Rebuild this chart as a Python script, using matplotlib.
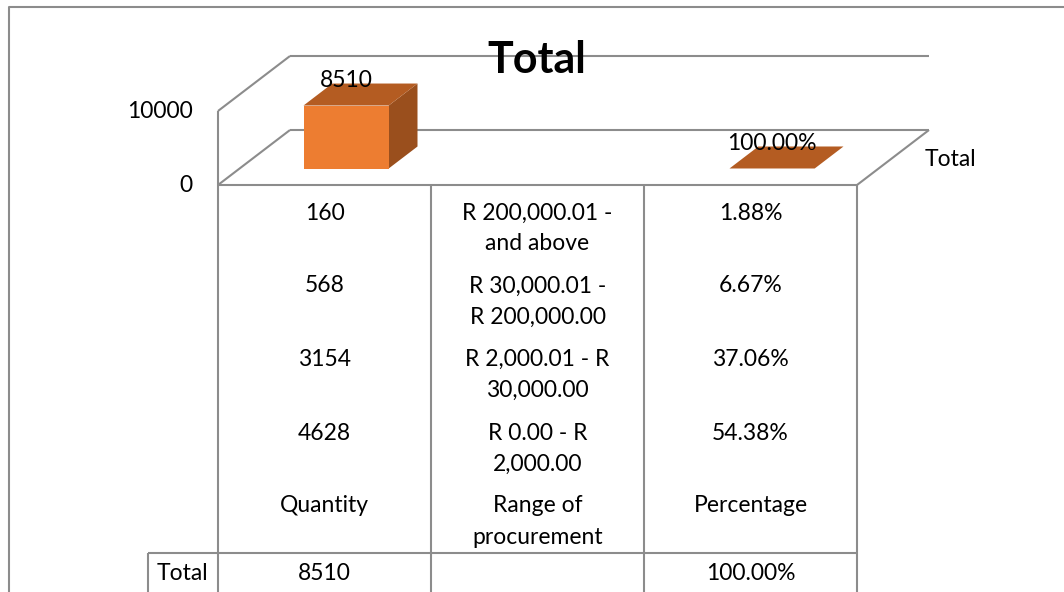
import matplotlib
matplotlib.use("Agg")
import matplotlib.pyplot as plt
from matplotlib.patches import Polygon

plt.rcParams['font.family'] = ['Lato', 'DejaVu Sans']

# chart data
categories = ["Quantity", "Range of\nprocurement", "Percentage"]
series_name = "Total"
total_values = [8510, None, 1.0]
total_labels = ["8510", "", "100.00%"]
y_ticks = [0, 10000]

# data table rows (top to bottom)
quantity = [160, 568, 3154, 4628]
ranges = ["R 200,000.01 -\nand above", "R 30,000.01 -\nR 200,000.00",
          "R 2,000.01 - R\n30,000.00", "R 0.00 - R\n2,000.00"]
percentage = ["1.88%", "6.67%", "37.06%", "54.38%"]
total_row = ["8510", "", "100.00%"]

W, H = 1064, 592
FS = 16.5
fig = plt.figure(figsize=(W / 100, H / 100), dpi=100)
ax = fig.add_axes([0, 0, 1, 1])
ax.set_xlim(0, W)
ax.set_ylim(H, 0)
ax.axis('off')

# pseudo-3D projection of (category position, value, depth 0..1) to pixels
X0, Y0 = 218, 185
CAT_W = 213
PX_PER_UNIT = 74 / 10000
DX, DY = 72, -55


def proj(c, v, d):
    return X0 + c * CAT_W + d * DX, Y0 - v * PX_PER_UNIT + d * DY


grid = '#8c8c8c'
lw = 1.5
n = len(categories)


def seg(p, q, **kw):
    ax.plot([p[0], q[0]], [p[1], q[1]], color=grid, lw=lw, solid_capstyle='butt', **kw)


# chart outer border
ax.plot([9, 9, W + 5], [H + 5, 7, 7], color='#8c8c8c', lw=1.5)

# walls / floor
vmax = y_ticks[-1]
for v in y_ticks:
    seg(proj(0, v, 1), proj(n, v, 1))
    seg(proj(0, v, 0), proj(0, v, 1))
seg(proj(0, 0, 0), proj(0, vmax, 0))
seg(proj(0, 0, 0), proj(n, 0, 0))
seg(proj(n, 0, 0), proj(n, 0, 1))

# y tick labels
for v in y_ticks:
    x, y = proj(0, v, 0)
    ax.text(x - 25, y, f"{v}", ha='right', va='center', fontsize=FS)

# bars
front_c = '#ED7D31'
top_c = '#B45C22'
side_c = '#9A4F1D'
bw = 0.4
d0, d1 = 0.3, 0.7
for i, v in enumerate(total_values):
    if v is None:
        continue
    c0, c1 = i + 0.5 - bw / 2, i + 0.5 + bw / 2
    front = [proj(c0, 0, d0), proj(c1, 0, d0), proj(c1, v, d0), proj(c0, v, d0)]
    top = [proj(c0, v, d0), proj(c1, v, d0), proj(c1, v, d1), proj(c0, v, d1)]
    side = [proj(c1, 0, d0), proj(c1, 0, d1), proj(c1, v, d1), proj(c1, v, d0)]
    if v * PX_PER_UNIT > 1:
        ax.add_patch(Polygon(side, closed=True, fc=side_c, ec='none', zorder=3))
        ax.add_patch(Polygon(front, closed=True, fc=front_c, ec='none', zorder=3))
    ax.add_patch(Polygon(top, closed=True, fc=top_c, ec='none', zorder=3))
    lx, _ = proj(i + 0.5, v, d0)
    _, ly = proj(i + 0.5, v, d1)
    ax.text(lx, ly - 3, total_labels[i], ha='center', va='center', fontsize=FS, zorder=4)

# title and legend
ax.text(537, 60, "Total", ha='center', va='center', fontsize=31, fontweight='bold', zorder=5)
ax.text(925, 159, series_name, ha='left', va='center', fontsize=FS)

# data table grid
for i in range(n + 1):
    x, y = proj(i, 0, 0)
    seg((x, y), (x, H + 5))
seg((148, 553), (proj(n, 0, 0)[0], 553))
seg((148, 553), (148, H + 5))

# data table text
row_y = [213, 286, 359, 433, 506]
line_gap = 31
cx = [proj(i + 0.5, 0, 0)[0] for i in range(n)]


def cell(x, y, s):
    for k, line in enumerate(s.split("\n")):
        ax.text(x, y + k * line_gap, line, ha='center', va='center', fontsize=FS)


for r in range(len(quantity)):
    cell(cx[0], row_y[r], str(quantity[r]))
    cell(cx[1], row_y[r], ranges[r])
    cell(cx[2], row_y[r], percentage[r])
for i, name in enumerate(categories):
    cell(cx[i], row_y[-1], name)

cell(182, 573, series_name)
for i, s in enumerate(total_row):
    if s:
        cell(cx[i], 573, s)

fig.savefig("out.png", dpi=100)
